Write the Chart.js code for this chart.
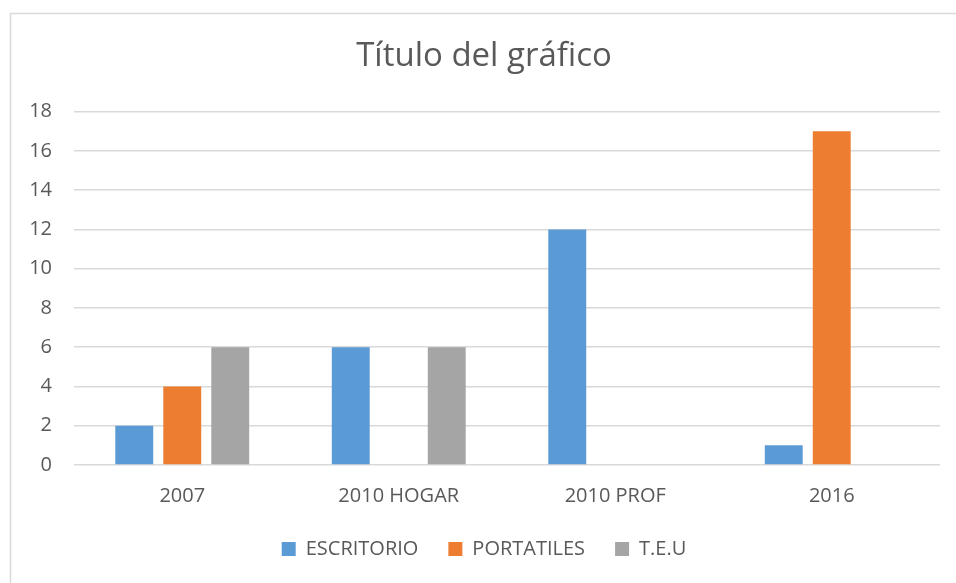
<!DOCTYPE html>
<html>
<head>
<meta charset="utf-8">
<script src="https://cdn.jsdelivr.net/npm/chart.js@4/dist/chart.umd.min.js"></script>
<style>
  html, body { margin: 0; padding: 0; background: #fff; }
  #wrap { width: 956px; height: 583px; position: relative; }
</style>
</head>
<body>
<div id="wrap"><canvas id="grafico" width="956" height="583"></canvas></div>
<script>
const categories = ['2007', '2010 HOGAR', '2010 PROF', '2016'];
const seriesNames = ['ESCRITORIO', 'PORTATILES', 'T.E.U'];
const escritorio = [2, 6, 12, 1];
const portatiles = [4, 0, 0, 17];
const teu = [6, 6, 0, 0];
const yTicks = [0, 2, 4, 6, 8, 10, 12, 14, 16, 18];

const colors = ['#5B9BD5', '#ED7D31', '#A5A5A5'];
const textColor = '#595959';
const fontFamily = '"Open Sans", "Noto Sans", sans-serif';

// Marco gris alrededor del grafico
const framePlugin = {
    id: 'framePlugin',
    beforeDraw(chart)
    {
        const ctx = chart.ctx;
        ctx.save();
        ctx.fillStyle = '#ffffff';
        ctx.fillRect(0, 0, chart.width, chart.height);
        ctx.strokeStyle = '#d9d9d9';
        ctx.lineWidth = 1.5;
        ctx.strokeRect(10.5, 13.5, chart.width + 20, chart.height + 20);
        ctx.restore();
    }
};

const dataLists = [escritorio, portatiles, teu];

new Chart(document.getElementById('grafico').getContext('2d'), {
    type: 'bar',
    data: {
        labels: categories,
        datasets: seriesNames.map((name, index) => ({
            label: name,
            data: dataLists[index],
            backgroundColor: colors[index],
            borderWidth: 0,
            barPercentage: 0.79,
            categoryPercentage: 0.665
        }))
    },
    options: {
        responsive: false,
        animation: false,
        layout: {
            padding: { left: 28, right: 16, top: 0, bottom: 14 }
        },
        plugins: {
            title: {
                display: true,
                text: 'Título del gráfico',
                color: textColor,
                font: { family: fontFamily, size: 33, weight: 'normal' },
                padding: { top: 37, bottom: 35 }
            },
            legend: {
                position: 'bottom',
                labels: {
                    color: textColor,
                    font: { family: fontFamily, size: 20 },
                    boxWidth: 14,
                    boxHeight: 14,
                    padding: 30
                }
            },
            tooltip: { enabled: false }
        },
        scales: {
            x: {
                grid: { display: false, drawTicks: false },
                border: { display: false },
                afterFit(scale)
                {
                    scale.height = 44;
                },
                ticks: {
                    color: textColor,
                    font: { family: fontFamily, size: 20 },
                    padding: 19
                }
            },
            y: {
                min: 0,
                max: 18,
                afterBuildTicks(scale)
                {
                    scale.ticks = yTicks.map(v => ({ value: v }));
                },
                afterFit(scale)
                {
                    scale.width = 46;
                },
                grid: { color: '#d9d9d9', lineWidth: 1.5, drawTicks: false },
                border: { display: false },
                ticks: {
                    color: textColor,
                    font: { family: fontFamily, size: 20 },
                    padding: 22
                }
            }
        }
    },
    plugins: [framePlugin]
});
</script>
</body>
</html>
